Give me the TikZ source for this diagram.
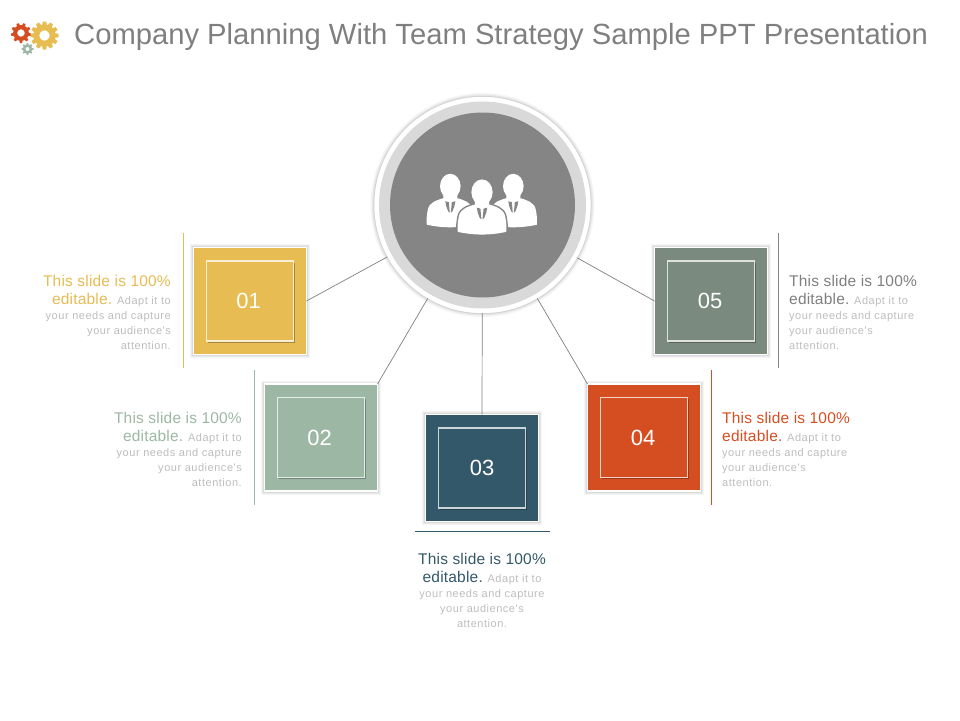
\documentclass[tikz,border=0pt]{standalone}
\usetikzlibrary{shadows}
\usepackage{fontspec}
\setmainfont{Liberation Sans}
\newfontfamily\leadfont[LetterSpace=1.3]{Liberation Sans}
\newfontfamily\smallfont[LetterSpace=4.8]{Liberation Sans}
\definecolor{cyel}{HTML}{E6BC53}
\definecolor{csag}{HTML}{9CB8A5}
\definecolor{cnav}{HTML}{33586A}
\definecolor{cred}{HTML}{D54E21}
\definecolor{csla}{HTML}{7A8A7F}
\definecolor{ctxt}{HTML}{BDBDBD}
\definecolor{ctitle}{HTML}{7F7F7F}
\definecolor{chub}{HTML}{858585}
\definecolor{cring}{HTML}{D9D9D9}
\definecolor{cline}{HTML}{808080}
\tikzset{
  softshadow/.style={
    preaction={draw=black,opacity=.04,line width=7pt},
    preaction={draw=black,opacity=.05,line width=5pt},
    preaction={draw=black,opacity=.06,line width=3pt}},
  outerbox/.style={draw=white,line width=1.6pt,softshadow,minimum width=113pt,minimum height=107pt,inner sep=0,outer sep=0},
  innerbox/.style={draw=white!75!#1,line width=1.1pt,fill=#1,
    general shadow={fill=black,opacity=.28,shadow xshift=1.6pt,shadow yshift=-1.6pt},
    minimum width=87pt,minimum height=80pt,inner sep=0,text=white,font=\fontsize{22}{24}\selectfont},
  spoke/.style={draw=cline,line width=.7pt},
  blurb/.style={inner sep=0,align=#1,text=ctxt,font=\smallfont\fontsize{11}{15}\selectfont},
  person/.style={fill=white,preaction={draw=chub,line width=3pt}},
  tie/.style={fill=chub,draw=none},
}
\newcommand{\blurbtext}[1]{%
  {\leadfont\fontsize{15.5}{15}\selectfont\color{#1}This slide is 100\%}\\[2.6pt]
  {\leadfont\fontsize{15.5}{15}\selectfont\color{#1}editable.} Adapt it to\\
  your needs and capture\\
  your audience's\\
  attention.}
\newcommand{\gearshape}[5]{% x,y,r,colour,teeth
  \begin{scope}[shift={(#1,#2)}]
    \foreach \a in {1,...,#5}{
      \fill[#4,rotate=\a*360/#5] (-#3*.17,#3*.7) -- (-#3*.12,#3) -- (#3*.12,#3) -- (#3*.17,#3*.7) -- cycle;
    }
    \draw[#4,line width=#3*.42pt] (0,0) circle[radius=#3*.58];
  \end{scope}}
\newcommand{\personshape}[3]{% x,y,s: head centre
  \begin{scope}[shift={(#1,#2)},scale=#3]
    \fill[person] (-7,8) -- (-7,11.5) .. controls (-12,13) and (-21,15) .. (-22.5,23)
      .. controls (-23.5,28) and (-24,33) .. (-23.5,38) .. controls (-8,41.5) and (8,41.5) .. (23.5,38)
      .. controls (24,33) and (23.5,28) .. (22.5,23) .. controls (21,15) and (12,13) .. (7,11.5) -- (7,8) -- cycle;
    \fill[white] (0,-.5) ellipse[x radius=10.3,y radius=12.4];
    \fill[tie] (-5,14.5) -- (-1.5,15.5) -- (-1.2,19) -- (-.5,26) -- (-2.2,24.5) -- (-4.2,19) -- cycle;
    \fill[tie] (5,14.5) -- (1.5,15.5) -- (1.2,19) -- (.5,26) -- (2.2,24.5) -- (4.2,19) -- cycle;
  \end{scope}}
\begin{document}
\begin{tikzpicture}[x=1pt,y=-1pt]
\useasboundingbox (0,0) rectangle (960,720);
% gears
\gearshape{21}{33}{10}{cred}{9}
\gearshape{44.5}{35.5}{14}{cyel}{12}
\gearshape{27.5}{49}{6}{csag}{8}
% title
\node[anchor=base west,inner sep=0,text=ctitle,font=\fontsize{29.2}{32}\selectfont] (title) at (74,44.5) {Company Planning With Team Strategy Sample PPT Presentation};
% rules
\fill[cyel] (182.7,233) rectangle (184.3,368);
\fill[csag] (253.7,370) rectangle (255.3,505);
\fill[cnav] (415,530.9) rectangle (550,532.1);
\fill[cred] (710.7,370) rectangle (712.3,505);
\fill[csla] (777.7,233) rectangle (779.3,368);
% hub
\node[circle,fill=white,minimum size=216pt,inner sep=0,outer sep=0,
  preaction={draw=black,opacity=.04,line width=8pt},
  preaction={draw=black,opacity=.06,line width=5pt},
  preaction={draw=black,opacity=.08,line width=2.5pt}] (hub) at (482.5,205) {};
% boxes
\node[outerbox,fill=cyel] (b1) at (250,301) {};
\node[outerbox,fill=csag] (b2) at (321,437.5) {};
\node[outerbox,fill=cnav] (b3) at (482,468) {};
\node[outerbox,fill=cred] (b4) at (644,437.5) {};
\node[outerbox,fill=csla] (b5) at (711,301) {};
% connectors
\draw[spoke] (hub) -- (b1.east);
\draw[spoke] (hub) -- (b2.north east);
\draw[spoke] (hub) -- (b3.north);
\draw[spoke] (hub) -- (b4.north west);
\draw[spoke] (hub) -- (b5.west);
% hub layers above spoke starts
\node[circle,fill=white,minimum size=216pt,inner sep=0] (cap) at (hub) {};
\node[circle,fill=cring,minimum size=207pt,inner sep=0] (ring) at (hub) {};
\node[circle,fill=chub,minimum size=185pt,inner sep=0] (core) at (hub) {};
% inner boxes
\node[innerbox=cyel] (i1) at (b1) {01\kern3pt};
\node[innerbox=csag] (i2) at (b2) {02\kern3pt};
\node[innerbox=cnav] (i3) at (b3) {03};
\node[innerbox=cred] (i4) at (b4) {04\kern2pt};
\node[innerbox=csla] (i5) at (b5) {05\kern2pt};
% people
\personshape{450.3}{186.7}{1}
\personshape{513.3}{186.7}{1}
\personshape{482}{192.7}{1.03}
% text
\node[blurb=right,anchor=north east] (t1) at (171,275) {\blurbtext{cyel}};
\node[blurb=right,anchor=north east] (t2) at (242,412) {\blurbtext{csag}};
\node[blurb=center,anchor=north] (t3) at (482,553.5) {\blurbtext{cnav}};
\node[blurb=left,anchor=north west] (t4) at (722,412) {\blurbtext{cred}};
\node[blurb=left,anchor=north west] (t5) at (789,275) {\blurbtext{ctitle}};
\end{tikzpicture}
\end{document}
